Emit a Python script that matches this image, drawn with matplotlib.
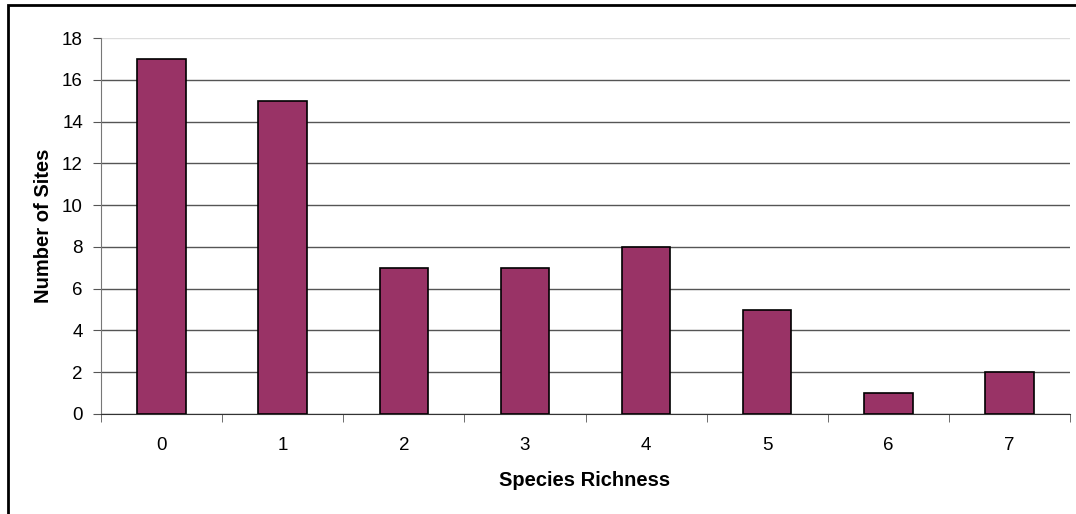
import matplotlib
matplotlib.use("Agg")
import matplotlib.pyplot as plt
from matplotlib.patches import Rectangle

richness = [0, 1, 2, 3, 4, 5, 6, 7]
sites = [17, 15, 7, 7, 8, 5, 1, 2]
y_ticks = [0, 2, 4, 6, 8, 10, 12, 14, 16, 18]

plt.rcParams["font.family"] = ["Liberation Sans", "DejaVu Sans"]

W, H = 1076, 514
fig = plt.figure(figsize=(W / 100, H / 100), dpi=100)
ax = fig.add_axes([101 / W, (H - 414) / H, (1070 - 101) / W, (414 - 38) / H])

x = list(range(len(richness)))
ax.bar(x, sites, width=0.4, color="#993366", edgecolor="black", linewidth=1.2, zorder=3)

ax.set_xlim(-0.5, len(richness) - 0.5)
ax.set_ylim(0, 18)
ax.set_yticks(y_ticks)
ax.set_yticklabels([str(v) for v in y_ticks], fontsize=13.5)

# category labels centred, tick marks at category boundaries
ax.set_xticks(x)
ax.set_xticklabels([str(r) for r in richness], fontsize=13.5)
ax.tick_params(axis="x", length=0, pad=16.5)
ax.set_xticks([i - 0.5 for i in range(len(richness) + 1)], minor=True)
ax.tick_params(axis="x", which="minor", length=6, color="#555555", direction="out")
ax.tick_params(axis="y", length=6, color="#555555", direction="out", pad=7)

ax.grid(axis="y", color="#555555", linewidth=1.0, zorder=0)
ax.set_axisbelow(True)
gl = ax.yaxis.get_gridlines()
gl[-1].set_color("#dddddd")

for side in ("top", "right"):
    ax.spines[side].set_visible(False)
ax.spines["left"].set_color("#777777")
ax.spines["bottom"].set_color("#333333")

fig.text(585 / W, 1 - 481 / H, "Species Richness", fontsize=14.5, fontweight="bold",
         ha="center", va="center")
fig.text(44 / W, 1 - 226 / H, "Number of Sites", fontsize=14.5, fontweight="bold",
         ha="center", va="center", rotation=90)

# outer chart frame
fig.patches.append(Rectangle((7.5 / W, -0.1), 1.2, 1.1 - 5.5 / H,
                             transform=fig.transFigure, fill=False,
                             edgecolor="black", linewidth=2.0))

fig.savefig("out.png", dpi=100)
